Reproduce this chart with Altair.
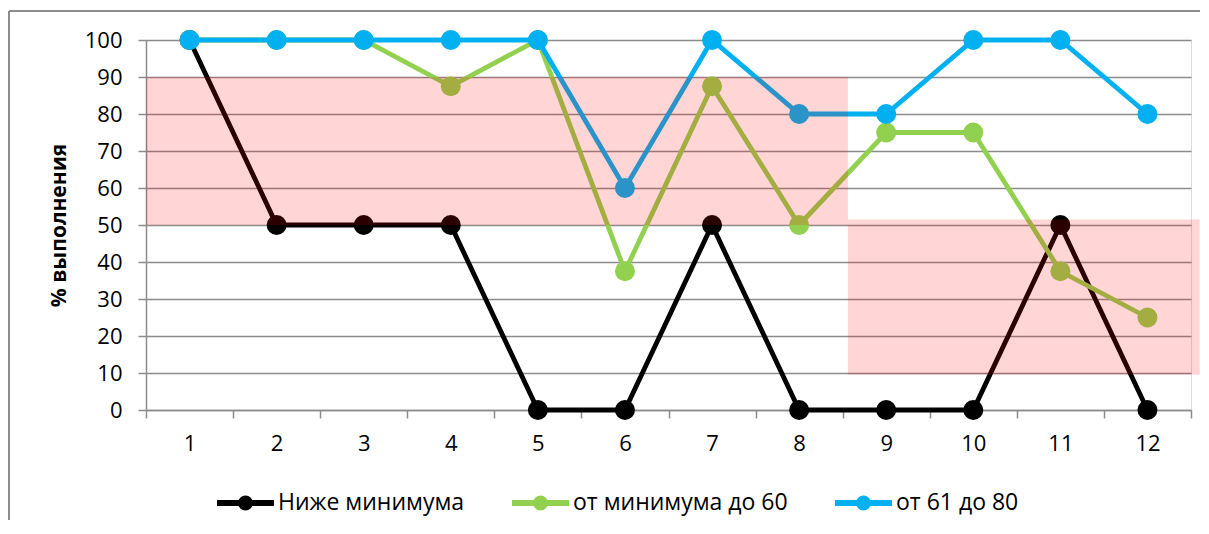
import altair as alt
import pandas as pd

# ---------------- data ----------------
tasks = list(range(1, 13))
series_names = ["Ниже минимума", "от минимума до 60", "от 61 до 80"]
below_min = [100, 50, 50, 50, 0, 0, 50, 0, 0, 0, 50, 0]
min_to_60 = [100, 100, 100, 87.5, 100, 37.5, 87.5, 50, 75, 75, 37.5, 25]
from_61_to_80 = [100, 100, 100, 100, 100, 60, 100, 80, 80, 100, 100, 80]
series_colors = ["#000000", "#92D050", "#00B0F0"]

# highlighted zones (task range, % range)
zone_x_start = [0.5, 8.56]
zone_x_end = [8.56, 12.6]
zone_y_low = [50, 9.5]
zone_y_high = [90, 51.5]

rows = []
for name, vals in zip(series_names, [below_min, min_to_60, from_61_to_80]):
    for t, v in zip(tasks, vals):
        rows.append({"series": name, "task": t, "value": v})
df = pd.DataFrame(rows)
zones = pd.DataFrame({"x0": zone_x_start, "x1": zone_x_end,
                      "y0": zone_y_low, "y1": zone_y_high})

# ---------------- styling ----------------
FONT = "Open Sans"
GRAY = "#8c8c8c"
W, H = 1045, 370
step = W / 12

x_scale = alt.Scale(domain=[0.5, 12.5], nice=False, zero=False)
y_scale = alt.Scale(domain=[0, 100], nice=False, zero=True)

x_axis = alt.Axis(
    values=[i + 0.5 for i in range(0, 13)],
    labelExpr="datum.value < 12 ? format(datum.value + 0.5, 'd') : ''",
    labelOffset={"condition": {"test": "datum.value < 12", "value": step / 2}, "value": 0},
    labelFlush=False, labelOverlap=False,
    tickSize=8, tickColor=GRAY, tickWidth=1.5, domainColor=GRAY, domainWidth=1.5,
    grid=False, labelFont=FONT, labelFontSize=22, labelColor="black",
    labelPadding=15, title=None,
)
y_axis = alt.Axis(
    values=list(range(0, 101, 10)), grid=True, gridColor=GRAY, gridWidth=1.3,
    domainColor=GRAY, domainWidth=1.5, tickColor=GRAY, tickWidth=1.5, tickSize=8,
    labelFont=FONT, labelFontSize=22, labelColor="black", labelPadding=16,
    labelOverlap=False,
    title="% выполнения", titleFont=FONT, titleFontSize=21,
    titleFontWeight="bold", titleColor="black", titlePadding=15,
)

# legend glyph: a line with a marker (two concentric stroked rings = solid dot)
SYMBOL = ("M-1,0L1,0 "
          "M0.088,0A0.088,0.088 0 1,1 -0.088,0A0.088,0.088 0 1,1 0.088,0 "
          "M0.158,0A0.158,0.158 0 1,1 -0.158,0A0.158,0.158 0 1,1 0.158,0")

legend = alt.Legend(
    orient="none", legendX=68, legendY=431, direction="horizontal", title=None,
    symbolType=SYMBOL, symbolSize=3249, symbolStrokeWidth=6, symbolOpacity=1,
    labelFont=FONT, labelFontSize=23, labelColor="black", labelOffset=1,
    labelLimit=500, columnPadding=35,
)
color = alt.Color("series:N", scale=alt.Scale(domain=series_names, range=series_colors),
                  legend=legend)

layers = []
for name in series_names:
    base = alt.Chart(df).transform_filter(alt.datum.series == name)
    enc = dict(
        x=alt.X("task:Q", scale=x_scale, axis=x_axis),
        y=alt.Y("value:Q", scale=y_scale, axis=y_axis),
        color=color,
    )
    layers.append(base.mark_line(strokeWidth=4.8).encode(**enc))
    layers.append(base.mark_circle(size=400, opacity=1).encode(**enc))

zones_layer = alt.Chart(zones).mark_rect(color="#FF0000", opacity=0.165).encode(
    x=alt.X("x0:Q", scale=x_scale, axis=x_axis),
    x2="x1",
    y=alt.Y("y0:Q", scale=y_scale, axis=y_axis),
    y2="y1",
)

one = pd.DataFrame({"k": [0]})
frame_top = alt.Chart(one).mark_rule(color=GRAY, strokeWidth=2).encode(
    x=alt.value(-137), x2=alt.value(1054), y=alt.value(-29))
frame_left = alt.Chart(one).mark_rule(color=GRAY, strokeWidth=2).encode(
    x=alt.value(-137), y=alt.value(-29), y2=alt.value(480))

chart = alt.layer(*layers, zones_layer, frame_top, frame_left).properties(
    width=W, height=H,
    padding={"left": 0, "top": 2, "right": 0, "bottom": 0},
).configure_view(stroke=None).configure(background="white")

chart.save("out.html", embed_options={"renderer": "svg", "actions": False})
